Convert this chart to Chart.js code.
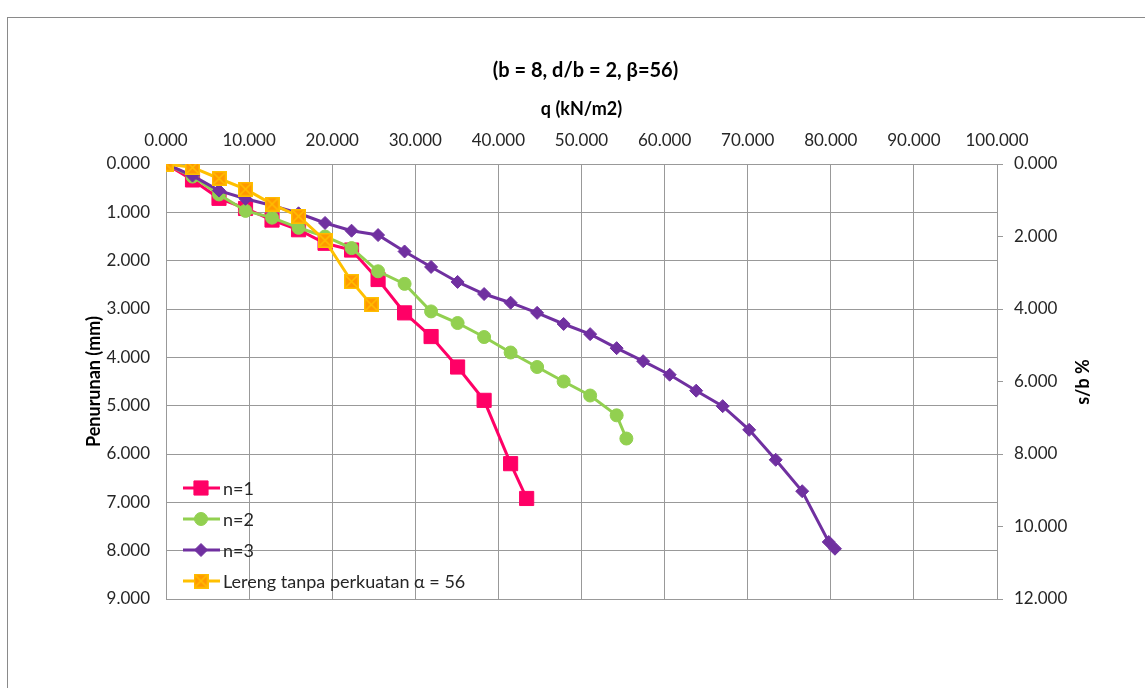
<!DOCTYPE html>
<html>
<head>
<meta charset="utf-8">
<script src="https://cdn.jsdelivr.net/npm/chart.js@4/dist/chart.umd.min.js"></script>
<style>
html, body { margin: 0; padding: 0; background: #fff; overflow: hidden; }
#wrap { position: relative; width: 1145px; height: 688px; overflow: hidden; }
#frame { position: absolute; left: 7px; top: 17px; width: 1200px; height: 700px; border: 1px solid #8a8a8a; }
canvas { position: absolute; left: 0; top: 0; }
</style>
</head>
<body>
<div id="wrap">
  <div id="frame"></div>
  <canvas id="chart" width="1145" height="688"></canvas>
</div>
<script>
// load q (kN/m2) and settlement (mm)
const qN1 = [0, 3.19, 6.38, 9.57, 12.76, 15.95, 19.14, 22.33, 25.52, 28.71, 31.90, 35.09, 38.28, 41.47, 43.40];
const sN1 = [0, 0.33, 0.71, 0.92, 1.16, 1.36, 1.64, 1.78, 2.39, 3.08, 3.57, 4.20, 4.89, 6.20, 6.92];

const qN2 = [0, 3.19, 6.38, 9.57, 12.76, 15.95, 19.14, 22.33, 25.52, 28.71, 31.90, 35.09, 38.28, 41.47, 44.66, 47.85, 51.04, 54.23, 55.40];
const sN2 = [0, 0.26, 0.63, 0.97, 1.11, 1.32, 1.50, 1.74, 2.22, 2.48, 3.05, 3.29, 3.58, 3.90, 4.20, 4.50, 4.79, 5.20, 5.68];

const qN3 = [0, 3.19, 6.38, 9.57, 12.76, 15.95, 19.14, 22.33, 25.52, 28.71, 31.90, 35.09, 38.28, 41.47, 44.66, 47.85, 51.04, 54.23, 57.42, 60.61, 63.80, 66.99, 70.18, 73.37, 76.56, 79.75, 80.50];
const sN3 = [0, 0.24, 0.55, 0.72, 0.86, 1.02, 1.22, 1.38, 1.47, 1.81, 2.13, 2.44, 2.69, 2.87, 3.08, 3.31, 3.52, 3.81, 4.08, 4.36, 4.69, 5.01, 5.50, 6.12, 6.77, 7.82, 7.96];

const qLereng = [0, 3.19, 6.38, 9.57, 12.76, 15.95, 19.14, 22.33, 24.70];
const sLereng = [0, 0.07, 0.30, 0.52, 0.83, 1.08, 1.58, 2.43, 2.91];

const seriesNames = ['n=1', 'n=2', 'n=3', 'Lereng tanpa perkuatan \u03b1 = 56'];

const FONT = 'Lato, "Open Sans", sans-serif';
Chart.defaults.font.family = FONT;
Chart.defaults.color = '#262626';

const pairs = (xs, ys) => xs.map((x, i) => ({ x: x, y: ys[i] }));

// orange square with an x, like the excel marker
function crossBox(size) {
    const c = document.createElement('canvas');
    c.width = size; c.height = size;
    const g = c.getContext('2d');
    g.fillStyle = '#FF9900';
    g.fillRect(0, 0, size, size);
    g.strokeStyle = '#FFC000';
    g.lineWidth = 1.5;
    g.strokeRect(0.75, 0.75, size - 1.5, size - 1.5);
    g.beginPath();
    g.moveTo(2, 2); g.lineTo(size - 2, size - 2);
    g.moveTo(size - 2, 2); g.lineTo(2, size - 2);
    g.stroke();
    return c;
}
const crossMarker = crossBox(15);

const datasets = [
    { label: seriesNames[0], data: pairs(qN1, sN1), borderColor: '#FF0066', backgroundColor: '#FF0066',
      pointStyle: 'rect', pointRadius: 10, pointBorderWidth: 1, order: 4 },
    { label: seriesNames[1], data: pairs(qN2, sN2), borderColor: '#92D050', backgroundColor: '#92D050',
      pointStyle: 'circle', pointRadius: 6.5, pointBorderWidth: 1, order: 3 },
    { label: seriesNames[2], data: pairs(qN3, sN3), borderColor: '#7030A0', backgroundColor: '#7030A0',
      pointStyle: 'rectRot', pointRadius: 6.5, pointBorderWidth: 1, order: 2 },
    { label: seriesNames[3], data: pairs(qLereng, sLereng), borderColor: '#FFC000', backgroundColor: '#FF9900',
      pointStyle: crossMarker, pointRadius: 7, pointBorderWidth: 0, order: 1 }
];
datasets.forEach(d => { d.showLine = true; d.borderWidth = 3; d.tension = 0; });

// legend sits inside the plot, bottom left
const innerLegend = {
    id: 'innerLegend',
    afterDatasetsDraw(chart) {
        const ctx = chart.ctx;
        const rows = [488, 519, 550, 581];
        ctx.save();
        chart.data.datasets.forEach((ds, i) => {
            const y = rows[i];
            ctx.strokeStyle = ds.borderColor;
            ctx.lineWidth = 3;
            ctx.beginPath();
            ctx.moveTo(183, y); ctx.lineTo(220, y);
            ctx.stroke();
            ctx.fillStyle = ds.backgroundColor;
            ctx.strokeStyle = ds.borderColor;
            ctx.lineWidth = ds.pointBorderWidth;
            Chart.helpers.drawPoint(ctx, {
                pointStyle: ds.pointStyle, radius: ds.pointRadius, rotation: 0, borderWidth: ds.pointBorderWidth
            }, 201, y);
            ctx.fillStyle = '#262626';
            ctx.font = '18px ' + FONT;
            ctx.textAlign = 'left';
            ctx.textBaseline = 'middle';
            ctx.fillText(ds.label, 223, y + 1);
        });
        ctx.restore();
    }
};

// right axis title reads bottom-to-top like the left one
const rightTitle = {
    id: 'rightTitle',
    afterDraw(chart) {
        const ctx = chart.ctx;
        ctx.save();
        ctx.translate(1083, 382);
        ctx.rotate(-Math.PI / 2);
        ctx.font = 'bold 18px ' + FONT;
        ctx.fillStyle = '#000';
        ctx.textAlign = 'center';
        ctx.textBaseline = 'middle';
        ctx.fillText('s/b %', 0, 0);
        ctx.restore();
    }
};

const fmt3 = v => Number(v).toFixed(3);

new Chart(document.getElementById('chart'), {
    type: 'scatter',
    data: { datasets: datasets },
    plugins: [innerLegend, rightTitle],
    options: {
        responsive: false,
        animation: false,
        layout: { padding: { top: 59, left: 26, right: 0, bottom: 89 } },
        plugins: {
            legend: { display: false },
            tooltip: { enabled: false },
            title: {
                display: true,
                text: '(b = 8, d/b = 2, \u03b2=56)',
                color: '#000',
                font: { size: 20, weight: 'bold', lineHeight: 1.2 },
                padding: { top: 0, bottom: 0 }
            }
        },
        scales: {
            x: {
                type: 'linear', position: 'top', min: 0, max: 100,
                afterFit: s => { s.height = 81; },
                ticks: { stepSize: 10, callback: fmt3, padding: 13.3, font: { size: 17 }, maxRotation: 0 },
                grid: { color: '#999', lineWidth: 1, drawTicks: false },
                border: { color: '#999' },
                title: { display: true, text: 'q (kN/m2)', color: '#000',
                         font: { size: 18, weight: 'bold', lineHeight: 1.2 }, padding: { top: 15.7, bottom: 0 } }
            },
            y: {
                type: 'linear', position: 'left', reverse: true, min: 0, max: 9,
                afterFit: s => { s.width = 140; },
                ticks: { stepSize: 1, callback: fmt3, padding: 16, font: { size: 17 } },
                grid: { color: '#999', lineWidth: 1, drawTicks: false },
                border: { color: '#999' },
                title: { display: true, text: 'Penurunan (mm)', color: '#000',
                         font: { size: 18, weight: 'bold', lineHeight: 1.2 }, padding: { top: 57.2, bottom: 0 } }
            },
            y2: {
                type: 'linear', position: 'right', reverse: true, min: 0, max: 12,
                afterFit: s => { s.width = 148; },
                ticks: { stepSize: 2, callback: fmt3, padding: 11, font: { size: 17 } },
                grid: { drawOnChartArea: false, color: '#999', tickLength: 6 },
                border: { color: '#999' }
            }
        }
    }
});
</script>
</body>
</html>
